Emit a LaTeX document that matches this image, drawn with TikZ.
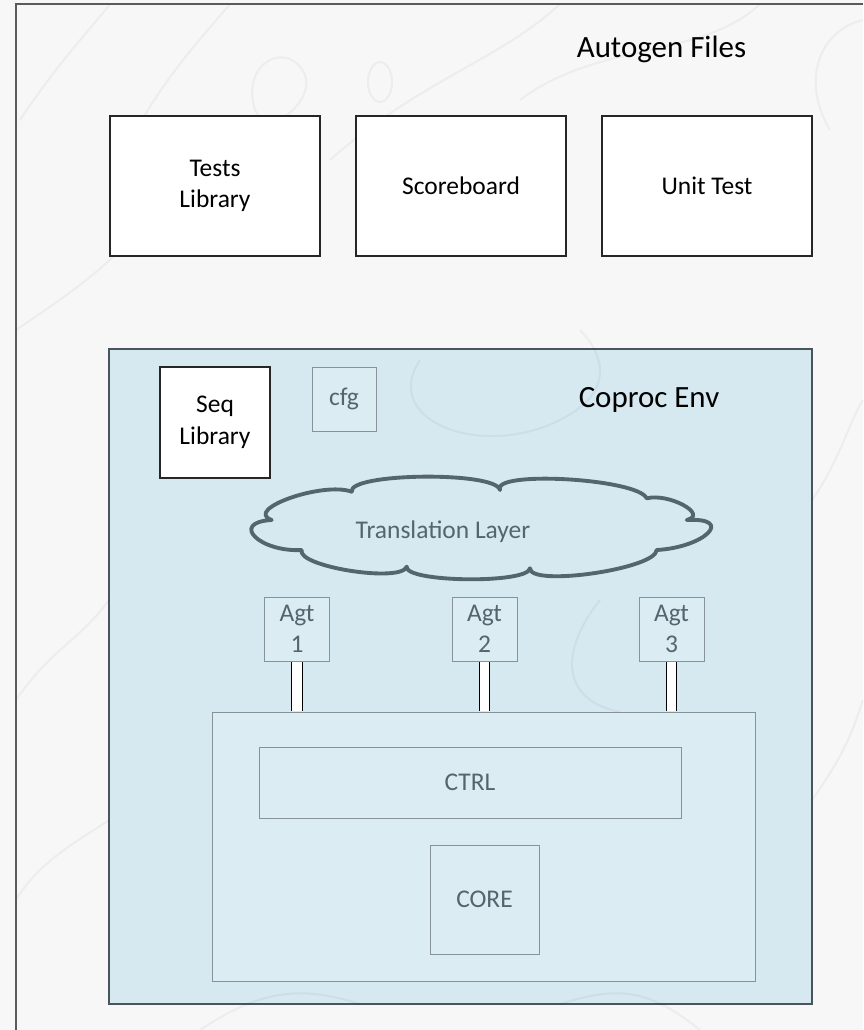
\documentclass[tikz,border=0pt]{standalone}
\usepackage{fontspec}
\setmainfont{Carlito}

\definecolor{pagebg}{HTML}{F7F7F7}
\definecolor{envblue}{HTML}{D6E8F0}
\definecolor{boxblue}{HTML}{DBECF3}
\definecolor{slate}{HTML}{55656E}
\definecolor{frameline}{HTML}{5A5A5A}
\definecolor{envline}{HTML}{4A555B}

\begin{document}
\begin{tikzpicture}[x=0.02cm,y=-0.02cm,
  lbl/.style={font=\fontsize{14.5}{18}\selectfont},
  title/.style={font=\fontsize{17.6}{21}\selectfont,anchor=base},
  filebox/.style={draw=black!85,line width=0.7pt,fill=white,align=center,lbl,inner sep=0pt},
  envbox/.style={draw=slate!70,line width=0.5pt,fill=boxblue,text=slate,align=center,lbl,inner sep=0pt},
  agent/.style={envbox,minimum width=1.3cm,minimum height=1.28cm},
  bar/.style={draw=black,line width=0.55pt,double=white,double distance=0.19cm,
    shorten <=0.3pt,shorten >=0.3pt},
  contour/.style={draw=black,opacity=0.04,line width=1.2pt}]
  \useasboundingbox (0,0) rectangle (863,1030);
  % page and environment background
  \fill[pagebg] (0,0) rectangle (863,1030);
  \node[draw=envline,line width=1.1pt,fill=envblue,minimum width=14.06cm,
    minimum height=13.1cm,inner sep=0pt] (env) at (460.5,676.5) {};
  % faint contour texture
  \draw[contour] (20,120) .. controls (60,60) and (90,30) .. (110,4);
  \draw[contour] (120,160) .. controls (160,80) and (200,40) .. (230,4);
  \draw[contour] (255,110) .. controls (240,60) and (290,40) .. (305,75)
    .. controls (315,100) and (270,140) .. (255,110);
  \draw[contour] (380,82) ellipse (12 and 20);
  \draw[contour] (330,160) .. controls (420,80) and (500,60) .. (560,4);
  \draw[contour] (520,100) .. controls (600,40) and (700,60) .. (760,4);
  \draw[contour] (830,130) .. controls (800,80) and (820,30) .. (863,20);
  \draw[contour] (16,330) .. controls (60,300) and (90,280) .. (120,250);
  \draw[contour] (420,360) .. controls (380,420) and (480,460) .. (560,420)
    .. controls (620,390) and (600,350) .. (580,330);
  \draw[contour] (600,600) .. controls (560,650) and (560,700) .. (620,712);
  \draw[contour] (200,1030) .. controls (260,990) and (300,985) .. (360,1004);
  \draw[contour] (700,1030) .. controls (650,990) and (620,985) .. (560,1004);
  \draw[contour] (16,700) .. controls (50,650) and (80,640) .. (109,600);
  \draw[contour] (16,900) .. controls (40,860) and (80,840) .. (109,820);
  \draw[contour] (812,500) .. controls (840,460) and (850,420) .. (863,400);
  \draw[contour] (812,800) .. controls (840,760) and (850,740) .. (863,700);
  % outer frame, open at right and bottom
  \draw[frameline,line width=1.1pt] (16,1030) -- (16,4) -- (863,4);

  % generated files
  \node[title] (autogen) at (661.5,58) {Autogen Files};
  \node[filebox,minimum width=4.2cm,minimum height=2.8cm] (tests) at (215,186) {Tests\\Library};
  \node[filebox,minimum width=4.2cm,minimum height=2.8cm] (sb) at (461,186) {Scoreboard};
  \node[filebox,minimum width=4.2cm,minimum height=2.8cm] (ut) at (707,186) {Unit Test};

  % coproc environment
  \node[title] (envtitle) at (649,407) {Coproc Env};
  \node[filebox,minimum width=2.2cm,minimum height=2.22cm] (seq) at (215,422.5) {Seq\\Library};
  \node[envbox,minimum width=1.28cm,minimum height=1.28cm] (cfg) at (344,399) {cfg};

  % translation layer cloud, one curve per puff
  \draw[slate,line width=2.2pt,fill=envblue,line join=round]
    (351.7,491.7) .. controls (347.9,472.8) and (496.2,471.1) .. (500,490)
    .. controls (491.1,470.2) and (637.8,478.5) .. (646.7,498.3)
    .. controls (668.8,492.8) and (708.8,514.5) .. (686.7,520)
    .. controls (735.1,517.3) and (705.1,547.3) .. (656.7,550)
    .. controls (656.2,568.9) and (529.5,587.2) .. (530,568.3)
    .. controls (527.8,584) and (404.5,582.4) .. (406.7,566.7)
    .. controls (401.1,583.2) and (296.1,566.5) .. (301.7,550)
    .. controls (259.4,552.3) and (229.4,522.3) .. (271.7,520)
    .. controls (242.8,509.5) and (322.8,481.2) .. cycle;
  \node[lbl,text=slate] (tltext) at (443,532) {Translation Layer};

  % agents
  \node[agent] (a1) at (297,629) {Agt\\1};
  \node[agent] (a2) at (484.5,629) {Agt\\2};
  \node[agent] (a3) at (671.5,629) {Agt\\3};

  % dut
  \node[envbox,minimum width=10.87cm,minimum height=5.38cm] (dut) at (484,846.5) {};
  \node[envbox,minimum width=8.44cm,minimum height=1.42cm] (ctrl) at (470,782.5) {CTRL};
  \node[envbox,minimum width=2.18cm,minimum height=2.18cm] (core) at (484.5,899.5) {CORE};

  % agent links
  \foreach \a in {a1,a2,a3}
    \draw[bar] (\a.south) -- (\a.south |- dut.north);
\end{tikzpicture}
\end{document}
